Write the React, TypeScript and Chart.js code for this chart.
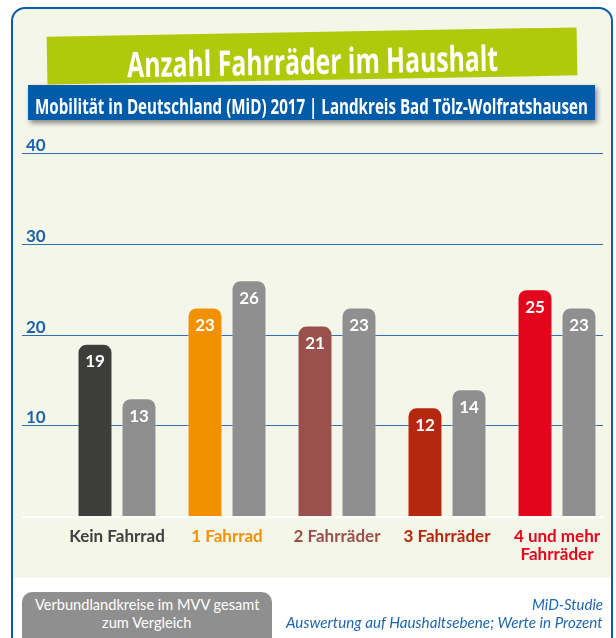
import React, { useEffect, useRef } from 'react';
import { Chart, registerables } from 'chart.js';

Chart.register(...registerables);

// ---- data ----
const categories: (string | string[])[] = [
  'Kein Fahrrad',
  '1 Fahrrad',
  '2 Fahrräder',
  '3 Fahrräder',
  ['4 und mehr', 'Fahrräder'],
];
const landkreisValues = [19, 23, 21, 12, 25];
const mvvValues = [13, 26, 23, 14, 23];
const yTickValues = [10, 20, 30, 40];
const categoryColors = ['#3d3d3c', '#f29100', '#9a504c', '#b3280e', '#e3051b'];
const labelColors = ['#404040', '#f29100', '#9a504c', '#b3280e', '#e3051b'];
const mvvColor = '#8f8f8f';

const titleText = 'Anzahl Fahrräder im Haushalt';
const subtitleText = 'Mobilität in Deutschland (MiD) 2017 | Landkreis Bad Tölz-Wolfratshausen';
const legendLines = ['Verbundlandkreise im MVV gesamt', 'zum Vergleich'];
const sourceLines = ['MiD-Studie', 'Auswertung auf Haushaltsebene; Werte in Prozent'];

const W = 616;
const H = 638;
const CREAM = '#f4f6e8';
const BLUE = '#0d5ea8';

let measureCtx: CanvasRenderingContext2D | null = null;
function measure(text: string, font: string): number {
  if (!measureCtx) {
    const c = document.createElement('canvas');
    measureCtx = c.getContext('2d');
  }
  measureCtx!.font = font;
  return measureCtx!.measureText(text).width;
}

type FitProps = {
  text: string;
  x0: number;
  x1: number;
  cy: number;
  size: number;
  weight?: number;
  italic?: boolean;
  family?: string;
  color: string;
  lh?: number;
};

function FitText({ text, x0, x1, cy, size, weight = 400, italic = false, family = 'Lato', color, lh = 20 }: FitProps) {
  const font = `${italic ? 'italic ' : ''}${weight} ${size}px ${family}`;
  const w = measure(text, font);
  const s = (x1 - x0) / w;
  return (
    <div
      style={{
        position: 'absolute',
        left: x0,
        top: cy - lh / 2,
        height: lh,
        lineHeight: `${lh}px`,
        font,
        color,
        whiteSpace: 'nowrap',
        transform: `scaleX(${s})`,
        transformOrigin: 'left center',
      }}
    >
      {text}
    </div>
  );
}

const gridPlugin = {
  id: 'customGrid',
  beforeDatasetsDraw(chart: any) {
    const { ctx } = chart;
    const y = chart.scales.y;
    ctx.save();
    const y0 = y.getPixelForValue(0);
    ctx.strokeStyle = 'rgba(255,255,255,0.9)';
    ctx.lineWidth = 2;
    ctx.beginPath();
    ctx.moveTo(22, y0 + 1);
    ctx.lineTo(603, y0 + 1);
    ctx.stroke();
    for (const v of yTickValues) {
      const py = Math.round(y.getPixelForValue(v)) + 0.5;
      ctx.strokeStyle = '#2f6fb0';
      ctx.lineWidth = 1.2;
      ctx.beginPath();
      ctx.moveTo(22, py);
      ctx.lineTo(603, py);
      ctx.stroke();
      ctx.fillStyle = '#1d63ab';
      ctx.font = 'bold 17px Lato';
      ctx.textAlign = 'left';
      ctx.textBaseline = 'alphabetic';
      ctx.fillText(String(v), 26, py - 3);
    }
    ctx.restore();
  },
};

const valueLabelPlugin = {
  id: 'valueLabels',
  afterDatasetsDraw(chart: any) {
    const { ctx } = chart;
    ctx.save();
    ctx.fillStyle = '#ffffff';
    ctx.font = 'bold 17px Lato';
    ctx.textAlign = 'center';
    ctx.textBaseline = 'middle';
    chart.data.datasets.forEach((ds: any, di: number) => {
      const meta = chart.getDatasetMeta(di);
      meta.data.forEach((el: any, i: number) => {
        ctx.fillText(String(ds.data[i]), el.x, el.y + 18);
      });
    });
    ctx.restore();
  },
};

function BarChart() {
  const ref = useRef<HTMLCanvasElement>(null);
  useEffect(() => {
    if (!ref.current) return;
    Chart.defaults.font.family = 'Lato';
    const chart = new Chart(ref.current, {
      type: 'bar',
      data: {
        labels: categories,
        datasets: [
          {
            label: 'Landkreis Bad Tölz-Wolfratshausen',
            data: landkreisValues,
            backgroundColor: categoryColors,
            borderColor: 'rgba(255,255,255,0.45)',
            borderWidth: 1,
            borderSkipped: 'bottom',
            borderRadius: 9,
            barPercentage: 0.795,
            categoryPercentage: 0.8,
          },
          {
            label: 'Verbundlandkreise im MVV gesamt',
            data: mvvValues,
            backgroundColor: mvvColor,
            borderColor: 'rgba(255,255,255,0.45)',
            borderWidth: 1,
            borderSkipped: 'bottom',
            borderRadius: 9,
            barPercentage: 0.795,
            categoryPercentage: 0.8,
          },
        ],
      },
      options: {
        responsive: false,
        animation: false,
        devicePixelRatio: 1,
        layout: { padding: { left: 62, right: 4, top: 153, bottom: 64 } },
        plugins: {
          legend: { display: false },
          tooltip: { enabled: false },
          title: { display: false },
        },
        scales: {
          x: {
            grid: { display: false, drawTicks: false },
            border: { display: false },
            ticks: {
              padding: 11,
              color: (c: any) => labelColors[c.index] ?? '#404040',
              font: { family: 'Lato', size: 17, weight: 'bold', lineHeight: 1.05 },
              maxRotation: 0,
              autoSkip: false,
            },
          },
          y: {
            display: false,
            min: 0,
            max: 40,
          },
        },
      },
      plugins: [gridPlugin, valueLabelPlugin],
    });
    return () => chart.destroy();
  }, []);
  return (
    <canvas
      ref={ref}
      width={W}
      height={H}
      style={{ position: 'absolute', left: 0, top: 0, width: W, height: H }}
    />
  );
}

export default function App() {
  return (
    <div
      style={{
        position: 'absolute',
        left: 0,
        top: 0,
        width: W,
        height: H,
        overflow: 'hidden',
        background: '#ffffff',
        fontFamily: 'Lato',
      }}
    >
      <div
        style={{
          position: 'absolute',
          left: 11,
          top: 7,
          width: 598,
          height: 640,
          border: `2px solid ${BLUE}`,
          borderRadius: 14,
          background: `linear-gradient(to bottom, ${CREAM} 0px, ${CREAM} 569px, #ffffff 569px)`,
        }}
      />
      <BarChart />
      <div
        style={{
          position: 'absolute',
          left: 47,
          top: 31.5,
          width: 530,
          height: 48,
          background: '#afca0b',
          transform: 'rotate(-1deg)',
          transformOrigin: 'center center',
        }}
      >
        <FitText text={titleText} x0={80} x1={451} cy={25} size={35} weight={700} family="'Open Sans'" color="#ffffff" lh={40} />
      </div>
      <div
        style={{
          position: 'absolute',
          left: 28,
          top: 85,
          width: 567,
          height: 35,
          background: '#005ca9',
          boxShadow: '2px 3px 5px rgba(0,0,0,0.45)',
        }}
      >
        <FitText text={subtitleText} x0={7} x1={560} cy={20.5} size={21} weight={700} family="'Open Sans'" color="#ffffff" lh={28} />
      </div>
      <div
        style={{
          position: 'absolute',
          left: 22,
          top: 592,
          width: 250,
          height: 60,
          background: mvvColor,
          borderRadius: 10,
        }}
      >
        <FitText text={legendLines[0]} x0={13} x1={238} cy={12} size={15} weight={400} color="#ffffff" lh={18} />
        <FitText text={legendLines[1]} x0={80} x1={170} cy={30} size={15} weight={400} color="#ffffff" lh={18} />
      </div>
      <FitText text={sourceLines[0]} x0={532} x1={603} cy={604} size={15} italic color="#1f66b0" lh={18} />
      <FitText text={sourceLines[1]} x0={286} x1={603} cy={622} size={15} italic color="#1f66b0" lh={18} />
    </div>
  );
}
